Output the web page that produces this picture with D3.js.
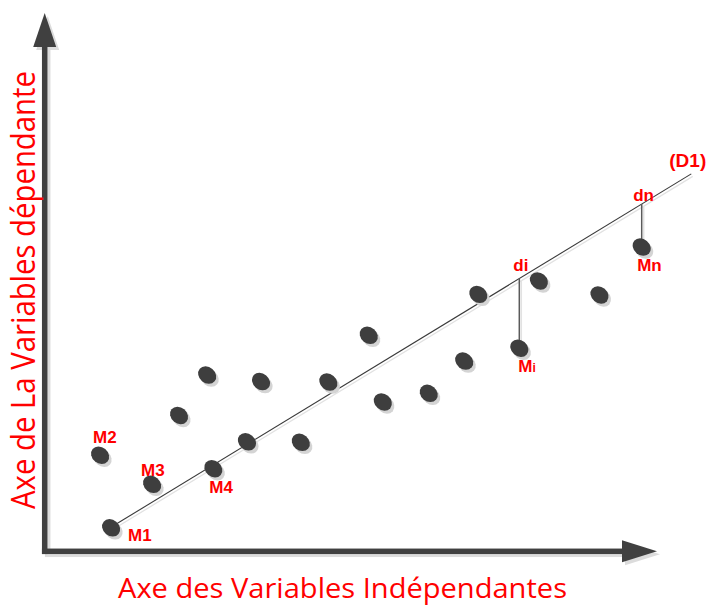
<!DOCTYPE html>
<html>
<head>
<meta charset="utf-8">
<script src="https://cdn.jsdelivr.net/npm/d3@7"></script>
<style>
  html, body { margin: 0; padding: 0; background: #fff; }
  svg { display: block; }
</style>
</head>
<body>
<svg id="chart" width="711" height="606"></svg>
<script>
// ---- data (abstract units on both axes, 0..100) ----
const pointX = [10.8, 9.0, 17.5, 27.5, 21.9, 26.5, 33.0, 35.3, 41.8, 46.3, 52.9, 55.2, 62.7, 68.5, 70.8, 77.5, 80.7, 90.6, 97.5];
const pointY = [4.3, 17.8, 12.4, 15.3, 25.2, 32.7, 20.3, 31.5, 20.2, 31.4, 40.1, 27.7, 29.3, 35.3, 47.7, 37.7, 50.2, 47.6, 56.5];
const pointNames = ["M1", "M2", "M3", "M4", "", "", "", "", "", "", "", "", "", "", "", "Mi", "", "", "Mn"];
// regression line (D1): y = slope * x + intercept
const lineSlope = 0.6927;
const lineIntercept = -3.05;
const lineXRange = [10.9, 105.6];
const lineName = "(D1)";
// residuals drawn from the line to these points
const residualPoints = [15, 18];
const residualNames = ["di", "dn"];
const axisTitleX = "Axe des Variables Indépendantes";
const axisTitleY = "Axe de La Variables dépendante";

// ---- layout ----
const svg = d3.select("#chart");
const x = d3.scaleLinear().domain([0, 100]).range([45, 657]);
const y = d3.scaleLinear().domain([0, 100]).range([551, 13]);
const AX = "#404040", SH = "#dcdcdc", RED = "#ff0000";

// axis arrows
const ox = x(0) - 0.3, oy = y(0) + 0.3;
const tipY = y(100), tipX = x(100);
function axes(g, dx, dy, color) {
  g.append("rect").attr("x", ox - 2.75 + dx).attr("y", tipY + 33 + dy)
    .attr("width", 5.5).attr("height", oy + 2.75 - (tipY + 33)).attr("fill", color);
  g.append("path").attr("d", `M${ox - 11.5 + dx},${tipY + 34 + dy} L${ox + 11.5 + dx},${tipY + 34 + dy} L${ox + dx},${tipY + dy} Z`).attr("fill", color);
  g.append("rect").attr("x", ox - 2.75 + dx).attr("y", oy - 2.75 + dy)
    .attr("width", tipX - 34 - (ox - 2.75)).attr("height", 5.5).attr("fill", color);
  g.append("path").attr("d", `M${tipX - 35 + dx},${oy - 11 + dy} L${tipX - 35 + dx},${oy + 11 + dy} L${tipX + dx},${oy + dy} Z`).attr("fill", color);
}
axes(svg.append("g"), 3, 3, SH);
axes(svg.append("g"), 0, 0, AX);

// regression line
const lx1 = lineXRange[0], lx2 = lineXRange[1];
const ly = v => lineSlope * v + lineIntercept;
svg.append("line").attr("x1", x(lx1) + 1.5).attr("y1", y(ly(lx1)) + 2.5)
  .attr("x2", x(lx2) + 1.5).attr("y2", y(ly(lx2)) + 2.5)
  .attr("stroke", "#e2e2e2").attr("stroke-width", 1.3);
svg.append("line").attr("x1", x(lx1)).attr("y1", y(ly(lx1)))
  .attr("x2", x(lx2)).attr("y2", y(ly(lx2)))
  .attr("stroke", "#3a3a3a").attr("stroke-width", 1.1);

// residual segments
residualPoints.forEach(i => {
  const px = x(pointX[i]);
  svg.append("line").attr("x1", px + 2).attr("x2", px + 2)
    .attr("y1", y(ly(pointX[i])) + 2).attr("y2", y(pointY[i]))
    .attr("stroke", "#e2e2e2").attr("stroke-width", 1.5);
  svg.append("line").attr("x1", px).attr("x2", px)
    .attr("y1", y(ly(pointX[i]))).attr("y2", y(pointY[i]))
    .attr("stroke", "#5a5a5a").attr("stroke-width", 1.5);
});

// points
const pts = d3.range(pointX.length);
svg.append("g").selectAll("ellipse").data(pts).join("ellipse")
  .attr("transform", i => `translate(${x(pointX[i]) + 2.5},${y(pointY[i]) + 3}) rotate(40)`)
  .attr("rx", 9.7).attr("ry", 8).attr("fill", "#d4d4d4");
svg.append("g").selectAll("ellipse").data(pts).join("ellipse")
  .attr("transform", i => `translate(${x(pointX[i])},${y(pointY[i])}) rotate(40)`)
  .attr("rx", 9.7).attr("ry", 8).attr("fill", "#3e3e3e");

// point labels
const labelOffsets = { M1: [17, 13], M2: [-7, -12.5], M3: [-11, -8.5], M4: [-4, 24.5], Mi: [-1, 24], Mn: [-4.5, 24] };
const lab = svg.append("g").attr("font-family", "'Liberation Sans', Arial, sans-serif")
  .attr("font-weight", "bold").attr("fill", RED).attr("font-size", 17);
pts.filter(i => pointNames[i]).forEach(i => {
  const name = pointNames[i], off = labelOffsets[name];
  const t = lab.append("text").attr("x", x(pointX[i]) + off[0]).attr("y", y(pointY[i]) + off[1]);
  if (name === "Mi") {
    t.append("tspan").text("M");
    t.append("tspan").attr("font-size", 12).text("i");
  } else {
    t.text(name);
  }
});
const resOffsets = { di: [-6, -8], dn: [-8.5, -3.5] };
residualPoints.forEach((i, k) => {
  const off = resOffsets[residualNames[k]];
  lab.append("text").attr("x", x(pointX[i]) + off[0]).attr("y", y(ly(pointX[i])) + off[1])
    .text(residualNames[k]);
});
lab.append("text").attr("x", x(lx2) - 22).attr("y", y(ly(lx2)) - 7)
  .attr("font-size", 19).text(lineName);

// axis titles
svg.append("text").attr("x", 118).attr("y", 598)
  .attr("font-family", "'Open Sans', sans-serif").attr("font-size", 27).attr("fill", RED)
  .attr("textLength", 449).attr("lengthAdjust", "spacingAndGlyphs").text(axisTitleX);
svg.append("text").attr("transform", "translate(35,509) rotate(-90)")
  .attr("font-family", "'Open Sans', sans-serif").attr("font-size", 32).attr("fill", RED)
  .attr("textLength", 438).attr("lengthAdjust", "spacingAndGlyphs").text(axisTitleY);
</script>
</body>
</html>
